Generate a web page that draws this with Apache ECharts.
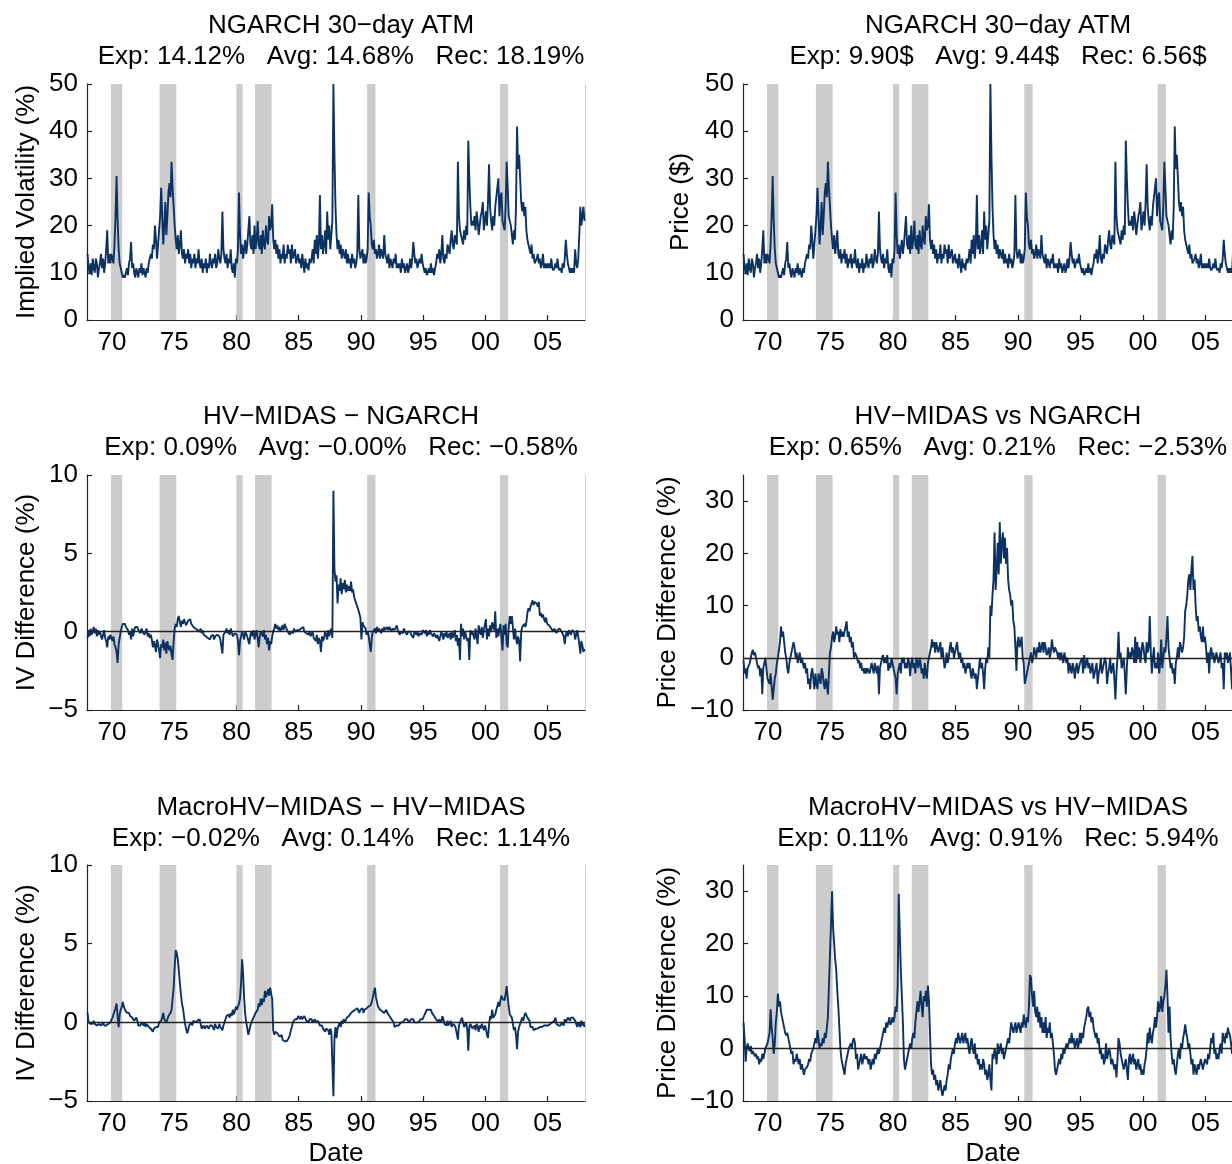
<!DOCTYPE html>
<html>
<head>
<meta charset="utf-8">
<script src="https://cdn.jsdelivr.net/npm/echarts@6/dist/echarts.min.js"></script>
<style>
  html, body { margin: 0; padding: 0; background: #fff; overflow: hidden; }
  #chart { width: 1250px; height: 1164px; }
</style>
</head>
<body>
<div id="chart"></div>
<script>
// Monthly observations, January 1968 to December 2007 (12 values per row = one year)
const startYear = 1968;

// NGARCH 30-day ATM implied volatility (%)
const ngarchIV = [
  14, 11, 10, 12, 9.5, 13, 11, 10, 13, 12, 9, 11,
  12, 14, 11, 13, 10, 12, 15, 19, 12, 14, 12, 14,
  13, 12, 16, 22, 30.5, 21, 15, 12, 11, 10, 9, 9.5,
  9, 10, 11, 9.5, 12, 13, 16.5, 11, 12, 10, 9, 11,
  10, 9, 11, 10, 12, 9.5, 11, 10, 9, 11, 10, 12,
  12, 14, 13, 16, 15, 20, 17, 13, 16, 19, 22, 28,
  22, 16, 20, 25, 18, 22, 27, 29, 26, 33.5, 28, 24,
  20, 17, 15, 18, 14, 16, 19, 14, 13, 15, 12, 14,
  13, 15, 12, 14, 11, 13, 12, 14, 11, 13, 12, 15,
  12, 11, 13, 10, 12, 11, 13, 10, 12, 11, 14, 12,
  11, 13, 12, 14, 11, 12, 15, 13, 12, 14, 23, 15,
  13, 12, 14, 11, 13, 12, 15, 11, 10, 12, 9, 13,
  12, 15, 27, 18, 14, 16, 13, 15, 17, 14, 16, 19,
  22, 16, 15, 18, 14, 20, 15, 17, 21, 16, 15, 18,
  14, 19, 16, 15, 20, 17, 16, 22, 19, 20, 24.5, 17,
  15, 17, 14, 16, 13, 15, 12, 14, 13, 16, 12, 14,
  13, 16, 14, 15, 12, 16, 13, 14, 15, 12, 13, 14,
  12, 13, 11, 14, 12, 10, 13, 11, 12, 10.5, 13, 12,
  13, 15, 12, 17, 14, 18, 13, 16, 26.5, 15, 18, 14,
  16, 19, 14, 23, 17, 20, 15, 18, 21, 50, 35, 24,
  18, 15, 17, 14, 16, 13, 15, 14, 13, 15, 12, 14,
  12, 13, 11, 14, 12, 13, 11, 12, 14, 26.5, 15, 13,
  13, 15, 12, 14, 12, 13, 15, 27, 22, 20, 16, 15,
  17, 14, 15, 13, 14, 16, 13, 15, 14, 13, 18, 14,
  13, 12, 14, 11, 13, 12, 11, 13, 12, 14, 11, 12,
  11, 12, 10, 13, 11, 12, 10, 11, 12, 10, 11, 13,
  11, 13, 16.5, 14, 12, 13, 11, 12, 13, 12, 14, 12,
  11, 10, 11, 9.5, 10, 11, 10, 12, 10, 11, 9.5, 11,
  12, 14, 13, 15, 12, 14, 18, 13, 12, 14, 13, 16,
  15, 14, 17, 19, 16, 15, 18, 17, 16, 33.5, 22, 19,
  18, 17, 16, 19, 17, 20, 18, 38, 30, 24, 20, 21,
  20, 22, 19, 23, 21, 18, 20, 22, 23, 25, 19, 21,
  23, 20, 25, 33, 24, 21, 19, 22, 20, 24, 26, 28,
  30, 22, 26, 27, 21, 20, 19, 24, 33.5, 28, 22, 21,
  20, 18, 16, 19, 17, 24, 41, 32, 35, 30, 25, 23,
  25, 22, 24, 19, 17, 16, 15, 14, 16, 13, 14, 12,
  12, 13, 14, 12, 13, 11, 12, 14, 11, 12, 11, 12,
  11, 12, 11, 13, 11, 10.5, 11, 12, 11, 13, 11, 10.5,
  11, 10, 12, 11, 13, 17, 14, 12, 11, 10, 11, 10,
  11, 10, 15, 12, 11, 13, 18, 24, 20, 22, 24, 21
];

// NGARCH 30-day ATM option price, same path as the implied volatility
const ngarchPrice = ngarchIV;

// HV-MIDAS minus NGARCH implied volatility (%)
const ivDiffHv = [
  -0.4, 0.1, -0.3, 0.2, -0.2, 0, 0.3, -0.1, 0.2, -0.3, 0.1, -0.2,
  0, -0.3, -0.5, -0.2, 0.1, -0.4, -0.6, -1.0, -0.3, -0.5, -0.2, -0.4,
  -0.6, -0.3, -0.8, -1.0, -1.3, -2.0, -0.8, -0.4, 0, 0.3, 0.5, 0.6,
  0.5, 0.3, 0.4, 0.1, -0.2, 0, -0.5, 0.2, -0.3, 0.1, 0.3, 0.2,
  0.3, 0.1, 0.2, -0.1, 0.2, 0, 0.1, -0.2, 0, 0.2, -0.3, -0.1,
  -0.4, -0.2, -0.5, -1.0, -0.6, -0.9, -1.3, -0.5, -0.8, -1.2, -1.7, -0.8,
  -1.0, -0.5, -1.2, -0.7, -1.4, -0.6, -1.0, -1.2, -0.9, -1.5, -1.8, -0.6,
  0.2, 0.5, 0.3, 0.8, 1.0, 0.6, 0.3, 0.7, 0.5, 0.8, 0.6, 0.4,
  0.5, 0.7, 0.6, 0.8, 0.5, 0.6, 0.3, 0.4, 0.2, 0.3, 0.1, 0.2,
  0, 0.2, -0.1, 0.1, -0.2, -0.1, -0.3, -0.2, -0.4, -0.3, -0.5, -0.3,
  -0.4, -0.2, -0.5, -0.3, -0.4, -0.2, -0.1, -0.3, -0.5, -0.4, -1.4, -0.2,
  -0.3, 0, 0.2, -0.1, 0.1, -0.2, 0.2, 0, -0.3, -0.4, -0.1, 0,
  -0.2, -0.6, -1.5, -0.6, -0.3, 0, -0.2, -0.5, 0, 0.1, -0.3, -0.6,
  -0.8, -0.2, 0, -0.3, 0.1, -0.5, -0.2, 0.1, -0.4, -1.0, -0.3, 0,
  0, -0.3, 0.1, -0.5, -0.2, -0.8, -0.4, -1.2, -0.6, -0.8, -0.3, 0,
  0.2, 0.5, 0.2, 0.4, 0.1, 0.3, 0, 0.2, 0.4, 0.1, 0.5, 0.3,
  0.2, 0, 0.1, -0.2, 0, 0.1, -0.1, 0.2, 0, -0.1, 0.1, 0,
  0.1, 0, 0.2, 0.1, 0.3, 0, 0.1, -0.1, 0, -0.2, 0, -0.3,
  -0.2, 0, -0.4, -0.3, -0.6, -0.2, -0.8, -0.4, -0.6, -1.3, -0.3, -0.6,
  -0.4, 0, -0.2, -0.5, 0.1, -0.3, 0, 0.2, -0.4, 9.0, 4.0, 3.2,
  3.6, 1.8, 3.0, 2.6, 3.4, 2.4, 3.1, 2.7, 3.3, 2.5, 3.0, 2.6,
  2.9, 2.6, 3.2, 2.5, 2.7, 2.2, 2.0, 1.8, 1.7, 1.4, 1.5, 0.9,
  -0.5, 0.6, 0.4, 0.5, 0.2, -0.2, 0, -0.3, -0.8, -1.3, -0.4, 0,
  0, 0.2, -0.1, 0.3, 0, 0.2, 0.1, -0.1, 0.2, 0, 0.3, 0.1,
  0.2, 0.3, 0.1, 0.3, 0.2, 0, 0.2, 0.3, 0.1, 0.2, 0.4, 0.1,
  0.1, -0.2, 0, 0.1, -0.1, 0.2, 0, 0.1, -0.2, 0, 0.1, 0,
  -0.2, -0.1, -0.4, 0, 0.1, -0.2, 0, -0.3, -0.1, 0, -0.2, 0.1,
  0, -0.1, 0.1, -0.3, 0, -0.2, 0.1, -0.1, 0, -0.3, -0.1, 0,
  -0.4, -0.2, -0.1, -0.6, -0.3, 0, -0.2, -0.5, -0.1, -0.3, 0, -0.4,
  -0.3, -0.1, -0.5, 0, -0.4, -0.2, 0.1, -0.6, -0.2, -0.9, -0.4, -1.8,
  0.5, -0.3, 0.2, -0.5, 0, -0.3, -0.6, -0.4, -1.8, 0.1, -0.2, 0,
  0.1, -0.5, 0.2, -0.3, -0.8, 0.4, 0, -0.2, 0.3, -0.4, 0.1, 0.2,
  0.8, -0.5, 0.2, -0.3, 0.4, 0, 0.6, 0.3, 0.1, 1.3, -0.4, 0.2,
  -0.3, 0.2, 0.5, -0.4, -1.2, 0.4, -0.2, 0.5, -0.8, -1.0, 0.3, 1.0,
  0.5, 1.0, 0.3, -0.5, 0.2, -0.4, -0.8, -0.3, -0.6, -1.9, 0, 0.3,
  0.2, 0.5, 0.3, 0.6, 1.2, 1.5, 1.3, 1.6, 1.8, 2.0, 1.7, 1.9,
  2.0, 1.8, 1.6, 1.9, 1.0, 1.2, 0.9, 1.1, 0.8, 0.6, 0.9, 0.5,
  0.6, 0.4, 0.5, 0.2, 0.3, 0, 0.2, 0.1, -0.1, 0.1, 0, 0.2,
  0.2, 0, 0.1, -0.3, -0.8, -0.2, 0, -0.3, 0.1, 0, -0.2, 0.1,
  0.2, 0, -0.5, -0.2, 0.1, -0.3, -0.8, -1.4, -0.6, -0.9, -1.3, -1.1
];

// HV-MIDAS vs NGARCH option price difference (%)
const priceDiffHv = [
  -0.5, -3, -2, -4, -2, -1.5, -1, 0, 1, 1.5, 0.5, 1,
  0, -1, -2, -1.5, -3.5, -2, -7, -2, -1, 0, -2, -4,
  -4, -5, -3, -5.5, -8, -6, -4, -3, -1, 0, 1.5, 3,
  6, 4, 5, 3, 1, 0, -2, -3, -1, 0, 1, 2,
  3, 2, 0, 1, -1, 0, 1, -1, 0, -1, -2, -1,
  -3, -2, -5, -4, -6, -3, -2, -4, -6, -3, -5, -6,
  -3, -4, -5, -2, -3, -5, -6, -4, -5, -7, -3, 1,
  2, 4, 5, 3, 4, 6, 4.5, 5, 3, 5.5, 4, 5,
  4, 5, 6, 7, 4, 5, 3, 4, 2, 3, 0, 1,
  1, 0, -1, -0.5, -2, -1, -2.5, -2, -3, -2, -3, -2,
  -2.5, -3, -2, -1, -2, -3, -1, -2, -3, -1.5, -7, -2,
  -1, 0, 0.5, -1, 0, -1, 0.5, -2.5, -1, -2, 0, -1,
  -2, -3, -4, -7, -3, -2, -1, -3, 0, -1, 0, -2,
  -1, -2, 0, -1, -3.5, -1, 0, -2, -1, -3, 0, -1,
  -2, 0, -1, -3, -2, -4, -1, -3, -4, -1, 0, 1,
  2, 3.5, 2, 3, 1, 3, 2, 1, 2, 3, 0, 2,
  0, -2, -1, 1, -1, 0, 2, 3, 1, 2, 0, 1,
  2, 3, 1, 0, 1, -1, 0, -2, -1, -3, -2, -1,
  -2, -1, -3, -4, -2, -3, -4, -3, -6, -4, -2, 0,
  -2, -1, -3, -6, -2, 0, -1, 2, 0, 10, 8, 12,
  15, 24, 13, 17, 22, 16, 26, 18, 22, 24, 19, 23,
  18, 21, 15, 13, 12, 10, 11, 7, 6, 2, -2.5, 3,
  4, 2, 3, 4, 0, -1, -5, -4, -3, -2, -1, 0,
  1, -1, 0, 2, 1, 0, 2, 1, 3, 1, 2, 3,
  1, 3, 2, 0.5, 1, 2, 0, 1, 3.5, 2, 1, 2,
  2, 1, 0, 1, -0.5, 1, 0, -1, 1, 0, -1, 0,
  -3, -1, -2, -3, -1, -2, -4, -2, -1, -3, -2, -1,
  -1, 0, -3, 0.5, -2, -1, 0, -2, -1, -3, -2, -1,
  -4, -3, -2, -1, -5, -3, -2, 0, -3, -2, -1, 0,
  -1, -5, -3, -2, 0, -3, -2, -1, -4, -8, -3, 0,
  5, 0, 1, -2, -1, 0, -3, -7, -2, 2, 0, 1,
  0, 2, 1, -1, 4, -1, 3, 0, 2, -1, 1, 3,
  2, 0, -1, 3, 1, 2, 8, 1, -3, 0, 2, -2,
  -1, -2, 1, -3, -1, 3.5, -2, 0, 2, 1, 4, 8,
  2, 0, -2, -1, -3, -2, -5, -1, 0, 2, 0, 3,
  3, 1, 2, 4, 9, 10, 12, 15, 16, 13, 17, 19.5,
  13, 15, 10, 7, 8, 5, 6, 4, 3, 6, 3, 4,
  2, -1, 1, -3, 1, 2, 0, 1, -1, 0, 1, 0,
  -1, 0, 1, -2, -1, -6, 1, 0, 1, -1, 0, 1,
  1, -6, 0, 1, -1, 0, -2, -5, -3, -2, -4, -3
];

// MacroHV-MIDAS minus HV-MIDAS implied volatility (%)
const ivDiffMacro = [
  0.6, 0, 0.1, -0.1, 0, -0.1, 0.1, -0.1, 0, -0.2, -0.1, -0.1,
  -0.1, -0.2, -0.1, 0, -0.2, -0.1, -0.2, -0.3, -0.1, -0.2, 0, 0.1,
  0.3, 0.5, 0.7, 0.9, 1.2, 0.4, -0.3, 0.5, 0.8, 1.0, 1.3, 1.0,
  0.8, 0.9, 0.6, 0.5, 0.6, 0.4, 0.5, 0.3, 0.4, 0.1, 0.2, 0.3,
  0.1, -0.2, -0.1, -0.2, 0, -0.1, -0.2, 0, -0.3, -0.1, -0.2, -0.3,
  -0.3, -0.4, -0.3, -0.6, -0.4, -0.5, -0.3, -0.2, -0.3, 0, -0.1, 0.1,
  0.3, 0.6, 0.2, 0.3, 0, 0.1, 0.4, 0.3, 0.6, 0.8, 1.5, 2.2,
  3.5, 4.6, 4.4, 4.0, 3.3, 2.5, 1.8, 1.2, 0.9, 0.4, -0.1, -0.4,
  -0.7, -0.5, -0.2, -0.1, 0, -0.2, 0.1, 0.2, 0, -0.1, 0.1, 0,
  0.2, -0.1, -0.4, -0.3, -0.2, -0.4, -0.3, -0.2, -0.3, -0.4, -0.2, -0.3,
  -0.2, -0.3, -0.5, -0.1, -0.3, -0.2, -0.4, -0.1, -0.3, -0.4, -0.5, -0.2,
  0, 0.2, 0.4, 0.3, 0.5, 0.3, 0.6, 0.4, 0.8, 0.5, 0.7, 1.0,
  0.8, 1.0, 1.2, 1.5, 2.5, 4.0, 3.0, 1.5, 0.5, 0, -0.4, -0.8,
  -0.5, -0.2, 0, 0.1, 0.3, 0.4, 0.6, 0.5, 0.8, 1.2, 1.0, 1.5,
  1.1, 1.5, 1.3, 2.0, 1.6, 1.8, 2.1, 1.7, 2.2, 1.8, 1.5, -0.5,
  -0.8, -0.6, -0.5, -0.7, -0.6, -0.9, -1.0, -0.8, -1.1, -1.0, -1.2, -1.1,
  -1.2, -1.3, -1.0, -0.8, -0.5, -0.3, 0, 0.1, 0.2, 0.3, 0.2, 0.4,
  0.3, 0.2, 0.4, 0.2, 0.3, 0.4, 0.3, 0.1, 0.2, 0, 0.2, 0.1,
  0.2, 0, 0.1, 0.2, 0, -0.1, 0.1, 0, -0.2, -0.3, -0.2, -0.4,
  -0.3, -0.6, -0.4, -0.3, -0.5, -0.8, -0.4, -0.6, -0.7, -4.7, -1.0, -0.3,
  -1.0, -0.4, -0.2, 0, -0.3, 0.1, -0.1, 0.2, 0, 0.1, 0.3, 0.2,
  0.4, 0.3, 0.6, 0.5, 0.7, 0.6, 0.8, 0.7, 0.9, 0.8, 0.6, 0.8,
  0.7, 0.9, 0.6, 0.8, 0.7, 0.9, 0.8, 1.0, 0.9, 1.1, 1.3, 1.6,
  1.9, 2.2, 1.6, 1.3, 1.0, 1.1, 0.8, 0.9, 0.7, 0.8, 0.6, 0.5,
  0.8, 0.6, 0.5, 0.4, 0.3, 0.2, 0.1, 0, -0.3, -0.4, -0.2, -0.3,
  -0.2, -0.1, 0, 0.1, 0, 0.1, 0.2, 0.1, 0.2, 0.1, 0, 0.1,
  0.2, 0.1, 0.2, 0, 0.1, 0, 0.1, 0, 0.1, 0.2, 0.3, 0.2,
  0.3, 0.5, 0.6, 0.8, 0.9, 0.8, 0.7, 0.8, 0.6, 0.5, 0.4, 0.3,
  0.2, 0.3, 0, 0.2, 0.1, 0, 0.4, 0.2, -0.1, 0, -0.2, 0.1,
  -0.2, -0.1, 0.1, -0.3, -0.1, 0, -0.2, -0.4, -0.3, -1.1, -0.2, 0,
  0.1, 0.3, 0, -0.3, -0.2, 0, -0.4, -1.8, -0.3, -0.1, -0.2, -0.4,
  -0.3, -0.2, -0.5, -0.1, -0.3, -0.6, -0.2, -0.4, -0.1, -0.3, -0.5, -0.2,
  -0.4, -0.8, -1.0, -0.2, 0.4, 0.2, 0.8, 0.3, 0.2, 0.5, 0.8, 1.0,
  1.3, 1.0, 1.4, 1.7, 1.5, 1.6, 1.4, 1.8, 2.3, 1.6, 1.0, 0.5,
  0.5, 0.3, 0.2, -0.5, -0.3, -0.8, -1.7, -0.6, -0.3, -0.2, 0.1, 0.3,
  0.1, 0.4, 0.6, 0.5, 0.3, 0.4, 0.1, -0.3, -0.4, -0.3, -0.5, -0.4,
  -0.4, -0.5, -0.4, -0.5, -0.3, -0.4, -0.3, -0.4, -0.2, -0.3, -0.2, -0.3,
  -0.2, -0.3, -0.1, -0.2, 0, -0.1, 0.1, 0.3, -0.1, 0, -0.2, -0.1,
  -0.2, 0, 0.1, -0.2, 0.2, 0, 0.1, 0.3, 0.2, 0.1, 0.3, 0.2,
  0.3, 0.2, 0.1, 0, -0.3, 0, 0.1, -0.3, 0.1, -0.2, 0, -0.3
];

// MacroHV-MIDAS vs HV-MIDAS option price difference (%)
const priceDiffMacro = [
  5, 2, -2.5, 0, 1, 0, -0.5, 0.5, -1, -0.5, -1, -1.5,
  -1, -2, -1.5, -3, -2, -2.5, -1, -2, -1, 0, 0.5, 1,
  2, 3, 7.5, 4, 2, -1, 1, 5, 7, 10.5, 8, 9,
  7, 6, 5, 4, 3, 2.5, 3, 2, 1, 0, -1, -0.5,
  -3, -2, -2.5, -1, -2, -3, -2, -4, -3, -4, -5, -4,
  -4, -3.5, -3, -2, -2.5, -1, -0.5, 0, 1, 2, 1, 3.5,
  2, 0, 1, 0.5, 2, 1, 3, 2, 4, 6, 12, 18,
  24, 30, 23, 20, 17, 15, 11, 8, 4, 0, -2, -3,
  -4, -5, -3, -2, -1, 0, 0.5, 1, 0, 1.5, 2, 1,
  -2, -1, -4, -3, -2, -1, -3, -2, -1, -2, -1.5, -2,
  -3, -2, -4, -3, -2, -3, -1, -2, -1, 0, -1, 0,
  1, 2, 3, 4, 3, 5, 4, 5, 6, 4.5, 5, 6,
  5, 6, 8, 7, 12, 29.5, 22, 15, 10, 5, -2, -4,
  -3, -2, -1, 0, 1, 0, 2, 3, 2, 5, 7, 9,
  7, 9, 11, 8, 6, 10, 9, 11, 8, 12, 9, 3,
  -3, -5, -4, -6, -5, -7, -6, -8, -7, -6, -8, -9,
  -9, -7, -8, -6, -5, -3, -4, -2, -1, 0, -1, 1,
  2, 1, 3, 2, 1, 2, 3, 1, 2, 3, 1, 2,
  0, -1, 1, 2, 0, -1, 1, -2, -1, -3, -2, -4,
  -3, -4, -2, -3, -5, -4, -6, -5, -3, -6, -8, -1,
  -2, 0, -1, -3, 1, -1, 0, 1, -1, 0, -2, -1,
  0, 1, 2, 1, 3, 5, 4, 3, 4, 5, 3, 4,
  5, 4, 3, 5, 4, 6.5, 5, 4, 6, 5, 8, 14,
  13.5, 10, 8, 11, 7, 6, 8, 5, 7, 4, 6, 3,
  5, 3, 6, 2, 4, 3, 5, 2, 3, 1, -1, -4,
  -5, -4, -3, -2, -3, -1, -2, 0, -1, 0, 1, 0,
  0, 2, 1, 3, 1, 2, 0, 1, 2, 0, 1, 3,
  1, 3, 2, 4, 5, 6, 7.5, 8, 6, 7, 5, 6,
  4, 3, 2, 3, 1, 2, -1, 0, -2, -1, -3, -2,
  1, -2, -1, 0, -1, -3, -2, -3, -4, -3, -5.5, -2,
  2, 1, -1, -2, -3, -4, -3, -2, -4, -6, -2, -1,
  -3, -2, -1, -3, -2, -4, -3, -2, -4, -3, -5, -4,
  -5, -3, -2, 0, 3, 1, 4, 2, 1, 3, 4, 6,
  4, 6, 9, 7, 8, 10, 7, 9, 10, 12, 15, 10,
  3, 8, 2, -1, -3, -2, -4, -5, -3, -1, 0, -2,
  1, 0, 2, 3, 4.6, 3, 2, 0, 1, -1, -3, -2,
  -5, -3, -4, -5, -3, -4, -3, -2, -3, -4, -3, -2,
  -2, -3, -1, -2, 0, 2, 1, 3, -1, 0, -2, -1,
  -2, 0, 1, -1, 3, 2, 1, 3, 2, 4, 3, 2.5,
  1, -1, 2, 0, 1, -2, 0, 3, 2, 5, 4, 3
];

// NBER recession periods (decimal years)
const recessions = [
  [1969.92, 1970.83],
  [1973.83, 1975.17],
  [1980.0, 1980.5],
  [1981.5, 1982.83],
  [1990.5, 1991.17],
  [2001.17, 2001.83]
];

const yearTicks = [1970, 1975, 1980, 1985, 1990, 1995, 2000, 2005];

const panelTitles = [
  ['NGARCH 30\u2212day ATM', 'Exp: 14.12%   Avg: 14.68%   Rec: 18.19%'],
  ['NGARCH 30\u2212day ATM', 'Exp: 9.90$   Avg: 9.44$   Rec: 6.56$'],
  ['HV\u2212MIDAS \u2212 NGARCH', 'Exp: 0.09%   Avg: \u22120.00%   Rec: \u22120.58%'],
  ['HV\u2212MIDAS vs NGARCH', 'Exp: 0.65%   Avg: 0.21%   Rec: \u22122.53%'],
  ['MacroHV\u2212MIDAS \u2212 HV\u2212MIDAS', 'Exp: \u22120.02%   Avg: 0.14%   Rec: 1.14%'],
  ['MacroHV\u2212MIDAS vs HV\u2212MIDAS', 'Exp: 0.11%   Avg: 0.91%   Rec: 5.94%']
];

const FONT = '"Liberation Sans", Helvetica, Arial, sans-serif';
const FS = 26;
const LINE = '#0b3262';
const AXIS = '#222222';

const toSeries = (arr) => arr.map((v, i) => [startYear + (i + 0.5) / 12, v]);
const fmt = (v) => (v < 0 ? '\u2212' + Math.abs(v) : String(v));

// Panel layout: column x, row y
const cols = [{ left: 87, width: 498 }, { left: 743, width: 500 }];
const rows = [{ top: 84, height: 236 }, { top: 475, height: 235 }, { top: 865, height: 236 }];

const panels = [
  { r: 0, c: 0, data: ngarchIV, name: 'Implied Volatility (%)', gap: 47, min: 0, max: 50, ticks: [0, 10, 20, 30, 40, 50], zero: false },
  { r: 0, c: 1, data: ngarchPrice, name: 'Price ($)', gap: 49, min: 0, max: 50, ticks: [0, 10, 20, 30, 40, 50], zero: false },
  { r: 1, c: 0, data: ivDiffHv, name: 'IV Difference (%)', gap: 47, min: -5, max: 10, ticks: [-5, 0, 5, 10], zero: true },
  { r: 1, c: 1, data: priceDiffHv, name: 'Price Difference (%)', gap: 62, min: -10, max: 35, ticks: [-10, 0, 10, 20, 30], zero: true },
  { r: 2, c: 0, data: ivDiffMacro, name: 'IV Difference (%)', gap: 47, min: -5, max: 10, ticks: [-5, 0, 5, 10], zero: true },
  { r: 2, c: 1, data: priceDiffMacro, name: 'Price Difference (%)', gap: 62, min: -10, max: 35, ticks: [-10, 0, 10, 20, 30], zero: true }
];

const grid = [], xAxis = [], yAxis = [], series = [], title = [];

panels.forEach((p, i) => {
  const col = cols[p.c], row = rows[p.r];
  grid.push({ left: col.left, top: row.top, width: col.width, height: row.height, outerBoundsMode: 'none', containLabel: false });

  xAxis.push({
    type: 'value', gridIndex: i, min: 1968, max: 2008,
    name: p.r === 2 ? 'Date' : '', nameLocation: 'middle', nameGap: 40,
    nameTextStyle: { fontFamily: FONT, fontSize: FS, color: '#000' },
    axisLine: { show: true, onZero: false, lineStyle: { color: AXIS, width: 1.2 } },
    axisTick: { show: true, inside: true, length: 5, customValues: yearTicks, lineStyle: { color: AXIS, width: 1.2 } },
    axisLabel: { customValues: yearTicks, margin: 10, fontFamily: FONT, fontSize: FS, color: '#000',
                 formatter: (v) => String(v).slice(2) },
    splitLine: { show: false }
  });

  const yi = yAxis.length;
  yAxis.push({
    type: 'value', gridIndex: i, min: p.min, max: p.max, position: 'left',
    name: p.name, nameLocation: 'middle', nameGap: p.gap, nameRotate: 90,
    nameTextStyle: { fontFamily: FONT, fontSize: FS, color: '#000' },
    axisLine: { show: true, onZero: false, lineStyle: { color: AXIS, width: 1.2 } },
    axisTick: { show: true, inside: true, length: 5, customValues: p.ticks, lineStyle: { color: AXIS, width: 1.2 } },
    axisLabel: { customValues: p.ticks, margin: 9, fontFamily: FONT, fontSize: FS, color: '#000', formatter: fmt },
    splitLine: { show: false }
  });

  // faint right-hand frame edge
  yAxis.push({
    type: 'value', gridIndex: i, min: p.min, max: p.max, position: 'right',
    axisLine: { show: true, onZero: false, lineStyle: { color: '#d0d0d0', width: 1 } },
    axisTick: { show: false }, axisLabel: { show: false }, splitLine: { show: false }
  });

  series.push({
    type: 'line', xAxisIndex: i, yAxisIndex: yi,
    data: toSeries(p.data),
    showSymbol: false, symbol: 'none', silent: true,
    lineStyle: { color: LINE, width: 1.9 },
    z: 3,
    markArea: {
      silent: true,
      itemStyle: { color: '#cccccc' },
      data: recessions.map(([a, b]) => [{ xAxis: a }, { xAxis: b }])
    },
    markLine: p.zero ? {
      silent: true, symbol: ['none', 'none'], label: { show: false },
      lineStyle: { color: AXIS, width: 1.3, type: 'solid' },
      data: [{ yAxis: 0 }]
    } : undefined
  });

  const cx = col.left + col.width / 2;
  const ty = [8, 399, 790][p.r];
  title.push({
    text: panelTitles[i][0], left: cx, top: ty, textAlign: 'center',
    textStyle: { fontFamily: FONT, fontSize: FS, fontWeight: 'normal', color: '#000' }
  });
  title.push({
    text: panelTitles[i][1], left: cx, top: ty + 31, textAlign: 'center',
    textStyle: { fontFamily: FONT, fontSize: FS, fontWeight: 'normal', color: '#000' }
  });
});

const chart = echarts.init(document.getElementById('chart'), null, { renderer: 'canvas' });
chart.setOption({
  animation: false,
  backgroundColor: '#fff',
  title, grid, xAxis, yAxis, series
});
</script>
</body>
</html>
